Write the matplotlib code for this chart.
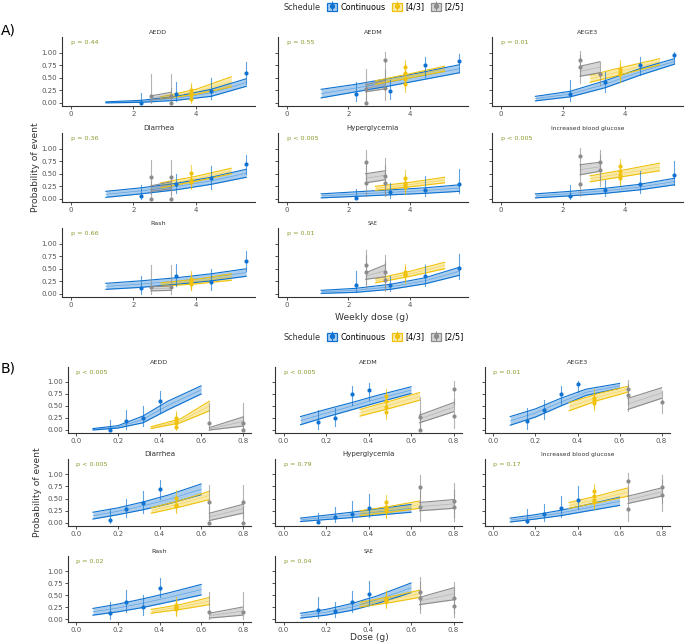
import numpy as np
import matplotlib
matplotlib.use('Agg')
from matplotlib import pyplot as plt
from matplotlib.patches import Patch
from matplotlib.lines import Line2D

events = ['AEDD', 'AEDM', 'AEGE3', 'Diarrhea', 'Hyperglycemia',
          'Increased blood glucose', 'Rash', 'SAE']
title_size = [4.6, 4.6, 4.6, 5.2, 5.0, 4.3, 4.6, 3.6]
pval_a = ['p = 0.44', 'p = 0.55', 'p = 0.01', 'p = 0.36', 'p < 0.005',
          'p < 0.005', 'p = 0.66', 'p = 0.01']
pval_b = ['p < 0.005', 'p < 0.005', 'p = 0.01', 'p < 0.005', 'p = 0.79',
          'p = 0.17', 'p = 0.02', 'p = 0.04']

# observed points (same data, daily dose for B, weekly dose for A)
cont_dose = [0.16, 0.24, 0.32, 0.40]
cont_weekly = [2.24, 3.36, 4.48, 5.60]
q43_dose, q43_weekly = 0.48, 3.84
g_dose = [0.64, 0.80]
g_weekly = [2.56, 3.20]

cont_prob = [[0.00, 0.18, 0.24, 0.60], [0.17, 0.24, 0.76, 0.83],
             [0.18, 0.42, 0.76, 0.95], [0.06, 0.29, 0.41, 0.70],
             [0.02, 0.13, 0.18, 0.30], [0.05, 0.18, 0.30, 0.47],
             [0.12, 0.35, 0.24, 0.65], [0.18, 0.17, 0.35, 0.52]]
cont_lo = [[0.00, 0.03, 0.08, 0.38], [0.03, 0.08, 0.52, 0.62],
           [0.03, 0.22, 0.55, 0.80], [0.00, 0.12, 0.20, 0.50],
           [0.00, 0.02, 0.05, 0.12], [0.00, 0.05, 0.12, 0.28],
           [0.00, 0.15, 0.08, 0.45], [0.03, 0.05, 0.15, 0.30]]
cont_hi = [[0.20, 0.42, 0.50, 0.82], [0.42, 0.45, 0.92, 0.97],
           [0.45, 0.62, 0.92, 1.02], [0.28, 0.50, 0.65, 0.88],
           [0.20, 0.32, 0.45, 0.60], [0.28, 0.38, 0.55, 0.75],
           [0.35, 0.60, 0.50, 0.85], [0.45, 0.35, 0.58, 0.80]]

q43_prob = [[0.25, 0.20, 0.15, 0.07], [0.71, 0.60, 0.47, 0.37], [0.67, 0.62, 0.57],
            [0.51, 0.37, 0.34], [0.42, 0.32, 0.28, 0.24], [0.65, 0.55, 0.47, 0.42],
            [0.29, 0.25, 0.22, 0.20], [0.44, 0.40, 0.37]]
q43_lo = [[0.10, 0.07, 0.04, 0.00], [0.52, 0.42, 0.30, 0.22], [0.47, 0.45, 0.42],
          [0.35, 0.22, 0.20], [0.25, 0.17, 0.13, 0.10], [0.47, 0.38, 0.30, 0.28],
          [0.13, 0.10, 0.08, 0.07], [0.28, 0.25, 0.22]]
q43_hi = [[0.40, 0.35, 0.30, 0.20], [0.86, 0.77, 0.65, 0.55], [0.85, 0.80, 0.75],
          [0.67, 0.53, 0.50], [0.58, 0.48, 0.44, 0.40], [0.80, 0.72, 0.64, 0.60],
          [0.46, 0.42, 0.38, 0.36], [0.60, 0.56, 0.53]]

g1_prob = [[0.14], [0.28, 0.00], [0.86, 0.72], [0.43, 0.00], [0.74, 0.32],
           [0.86, 0.29], [0.14], [0.57, 0.43]]
g1_lo = [[0.00], [0.02, 0.00], [0.55, 0.40], [0.10, 0.00], [0.35, 0.05],
         [0.50, 0.05], [0.00], [0.20, 0.12]]
g1_hi = [[0.57], [0.68, 0.40], [1.04, 0.95], [0.78, 0.35], [0.98, 0.70],
         [1.02, 0.70], [0.57], [0.88, 0.78]]
g2_prob = [[0.14, 0.00], [0.86, 0.29], [0.58], [0.43, 0.00], [0.45, 0.32],
           [0.73, 0.58], [0.14], [0.43, 0.28]]
g2_lo = [[0.00, 0.00], [0.52, 0.05], [0.35], [0.10, 0.00], [0.12, 0.05],
         [0.40, 0.25], [0.00], [0.12, 0.05]]
g2_hi = [[0.57, 0.30], [1.02, 0.65], [0.82], [0.78, 0.35], [0.82, 0.68],
         [0.98, 0.88], [0.57], [0.78, 0.65]]

# model bands, panel A (weekly dose)
a_cont_x = [1.12, 2.24, 3.36, 4.48, 5.60]
a_cont_lo = [[0.00, 0.01, 0.05, 0.13, 0.33], [0.10, 0.22, 0.34, 0.47, 0.60],
             [0.04, 0.12, 0.30, 0.55, 0.77], [0.03, 0.10, 0.18, 0.29, 0.43],
             [0.02, 0.05, 0.08, 0.11, 0.15], [0.02, 0.06, 0.11, 0.18, 0.28],
             [0.09, 0.13, 0.19, 0.26, 0.35], [0.01, 0.03, 0.09, 0.20, 0.37]]
a_cont_hi = [[0.02, 0.05, 0.13, 0.27, 0.48], [0.27, 0.37, 0.49, 0.62, 0.76],
             [0.13, 0.23, 0.44, 0.68, 0.88], [0.15, 0.22, 0.31, 0.43, 0.59],
             [0.10, 0.14, 0.18, 0.22, 0.28], [0.10, 0.15, 0.21, 0.29, 0.41],
             [0.21, 0.26, 0.32, 0.40, 0.50], [0.07, 0.11, 0.19, 0.32, 0.53]]
a_q43_x = [2.88, 4.00, 5.12]
a_q43_lo = [[0.08, 0.17, 0.32], [0.37, 0.50, 0.63], [0.41, 0.58, 0.76], [0.22, 0.35, 0.50],
            [0.17, 0.24, 0.32], [0.34, 0.45, 0.56], [0.15, 0.20, 0.27], [0.22, 0.35, 0.50]]
a_q43_hi = [[0.12, 0.27, 0.52], [0.44, 0.58, 0.73], [0.55, 0.72, 0.88], [0.32, 0.45, 0.61],
            [0.25, 0.33, 0.43], [0.46, 0.58, 0.71], [0.22, 0.29, 0.40], [0.30, 0.45, 0.63]]
a_g_x = [2.56, 3.20]
a_g_lo = [[0.06, 0.10], [0.22, 0.28], [0.53, 0.60], [0.15, 0.20],
          [0.32, 0.38], [0.48, 0.55], [0.06, 0.07], [0.29, 0.34]]
a_g_hi = [[0.14, 0.21], [0.36, 0.45], [0.73, 0.82], [0.26, 0.34],
          [0.50, 0.56], [0.68, 0.73], [0.14, 0.16], [0.42, 0.58]]

# model bands, panel B (dose)
b_cont_x = [0.08, 0.20, 0.32, 0.44, 0.60]
b_cont_lo = [[0.00, 0.04, 0.15, 0.42, 0.75], [0.11, 0.27, 0.42, 0.57, 0.76],
             [0.10, 0.27, 0.50, 0.72, 0.87], [0.08, 0.17, 0.27, 0.39, 0.58],
             [0.03, 0.07, 0.11, 0.16, 0.22], [0.02, 0.08, 0.15, 0.24, 0.36],
             [0.08, 0.15, 0.24, 0.35, 0.50], [0.02, 0.08, 0.18, 0.32, 0.55]]
b_cont_hi = [[0.03, 0.09, 0.29, 0.60, 0.92], [0.28, 0.43, 0.57, 0.72, 0.90],
             [0.28, 0.44, 0.66, 0.85, 0.97], [0.22, 0.31, 0.43, 0.57, 0.80],
             [0.10, 0.16, 0.22, 0.29, 0.38], [0.10, 0.17, 0.26, 0.37, 0.53],
             [0.22, 0.31, 0.42, 0.54, 0.72], [0.12, 0.20, 0.32, 0.48, 0.75]]
b_q43_x = [0.36, 0.50, 0.64]
b_q43_lo = [[0.03, 0.15, 0.40], [0.29, 0.45, 0.62], [0.40, 0.62, 0.79], [0.20, 0.33, 0.48],
            [0.15, 0.22, 0.30], [0.30, 0.42, 0.55], [0.12, 0.20, 0.30], [0.25, 0.34, 0.45]]
b_q43_hi = [[0.07, 0.23, 0.60], [0.43, 0.60, 0.78], [0.57, 0.76, 0.91], [0.31, 0.46, 0.65],
            [0.25, 0.34, 0.45], [0.42, 0.56, 0.72], [0.20, 0.30, 0.45], [0.35, 0.46, 0.60]]
b_g_x = [0.64, 0.80]
b_g_lo = [[0.00, 0.08], [0.15, 0.38], [0.43, 0.66], [0.05, 0.20],
          [0.25, 0.30], [0.40, 0.55], [0.02, 0.08], [0.30, 0.40]]
b_g_hi = [[0.05, 0.27], [0.31, 0.57], [0.66, 0.88], [0.20, 0.38],
          [0.42, 0.48], [0.55, 0.72], [0.12, 0.25], [0.45, 0.65]]

BLUE, YEL, GRY = '#0d72d1', '#f0c20c', '#8c8c8c'
W, H = 685, 644
fig = plt.figure(figsize=(W / 100, H / 100), dpi=100)


def box(l, r, t, b):
    return [l / W, 1 - b / H, (r - l) / W, (b - t) / H]


def band(ax, x, lo, hi, c):
    lo, hi = np.array(lo), np.array(hi)
    ax.fill_between(x, lo, hi, color=c, alpha=0.35, lw=0)
    ax.plot(x, lo, color=c, lw=0.8)
    ax.plot(x, hi, color=c, lw=0.8)
    ax.plot(x, (lo + hi) / 2, color=c, lw=0.5, alpha=0.45)


def pts(ax, x, p, lo, hi, c):
    for v, l, h in zip(p, lo, hi):
        ax.plot([x, x], [l, h], color=c, lw=0.8, alpha=0.65)
        ax.plot(x, v, 'o', color=c, ms=3, mew=0)


def panel(cols, rows, xlim, xticks, xlabels, cx, yx, gx, bands, pvals):
    for i, ev in enumerate(events):
        l, r = cols[i % 3]
        t, b = rows[i // 3]
        ax = fig.add_axes(box(l, r, t, b))
        cxk, clo, chi, yxk, ylo, yhi, gxk, glo, ghi = bands
        band(ax, cxk, clo[i], chi[i], BLUE)
        band(ax, yxk, ylo[i], yhi[i], YEL)
        band(ax, gxk, glo[i], ghi[i], GRY)
        for j, x in enumerate(cx):
            pts(ax, x, [cont_prob[i][j]], [cont_lo[i][j]], [cont_hi[i][j]], BLUE)
        pts(ax, yx, q43_prob[i], q43_lo[i], q43_hi[i], YEL)
        pts(ax, gx[0], g1_prob[i], g1_lo[i], g1_hi[i], GRY)
        pts(ax, gx[1], g2_prob[i], g2_lo[i], g2_hi[i], GRY)
        ax.text(0, 1.2, pvals[i], color='#8a9a2c', fontsize=4.6, va='center')
        ax.set_title(ev, fontsize=title_size[i], color='#333333', pad=2)
        ax.set_xlim(xlim)
        ax.set_ylim(-0.0625, 1.3125)
        ax.set_xticks(xticks)
        ax.set_xticklabels(xlabels)
        ax.set_yticks([0, 0.25, 0.5, 0.75, 1.0])
        if i % 3 == 0:
            ax.set_yticklabels(['0.00', '0.25', '0.50', '0.75', '1.00'])
        else:
            ax.set_yticklabels([])
        ax.tick_params(labelsize=5.0, labelcolor='#555555', color='#333333',
                       length=2, width=0.6, pad=1.5)
        for s in ['top', 'right']:
            ax.spines[s].set_visible(False)
        for s in ['left', 'bottom']:
            ax.spines[s].set_color('#333333')
            ax.spines[s].set_linewidth(0.8)
        ax.set_facecolor('none')


def legend(y):
    fig.text(284 / W, 1 - y / H, 'Schedule', fontsize=5.8, va='center', color='#333333')
    hs = []
    for c in [BLUE, YEL, GRY]:
        hs.append((Patch(facecolor=c, alpha=0.35, edgecolor=c),
                   Patch(facecolor='none', edgecolor=c, lw=0.8),
                   Line2D([], [], color=c, marker='|', ms=7, mew=0.7, ls=''),
                   Line2D([], [], color=c, marker='o', ms=2.8, ls='')))
    fig.legend(hs, ['Continuous', '[4/3]', '[2/5]'], ncol=3, frameon=False,
               loc='center left', bbox_to_anchor=(323 / W, 1 - y / H),
               fontsize=5.8, handlelength=1.25, handleheight=1.25,
               handletextpad=0.4, columnspacing=0.8, borderpad=0)


panel([(62, 255), (278, 468), (492, 683)], [(37, 106), (133, 202), (228, 297)],
      (-0.28, 5.88), [0, 2, 4], ['0', '2', '4'], cont_weekly, q43_weekly, g_weekly,
      (a_cont_x, a_cont_lo, a_cont_hi, a_q43_x, a_q43_lo, a_q43_hi, a_g_x, a_g_lo, a_g_hi),
      pval_a)
panel([(68, 251), (275, 462), (485, 670)], [(367, 433), (459, 526), (556, 622)],
      (-0.04, 0.84), [0, 0.2, 0.4, 0.6, 0.8], ['0.0', '0.2', '0.4', '0.6', '0.8'],
      cont_dose, q43_dose, g_dose,
      (b_cont_x, b_cont_lo, b_cont_hi, b_q43_x, b_q43_lo, b_q43_hi, b_g_x, b_g_lo, b_g_hi),
      pval_b)

legend(7)
legend(337)
fig.text(1 / W, 1 - 30 / H, 'A)', fontsize=10, va='center')
fig.text(1 / W, 1 - 368 / H, 'B)', fontsize=10, va='center')
fig.text(35 / W, 1 - 167 / H, 'Probability of event', rotation=90, fontsize=6.6,
         ha='center', va='center', color='#333333')
fig.text(38 / W, 1 - 492 / H, 'Probability of event', rotation=90, fontsize=6.6,
         ha='center', va='center', color='#333333')
fig.text(372 / W, 1 - 317 / H, 'Weekly dose (g)', fontsize=6.6, ha='center',
         va='center', color='#333333')
fig.text(369 / W, 1 - 637 / H, 'Dose (g)', fontsize=6.6, ha='center',
         va='center', color='#333333')

fig.savefig('out.png', dpi=100)
